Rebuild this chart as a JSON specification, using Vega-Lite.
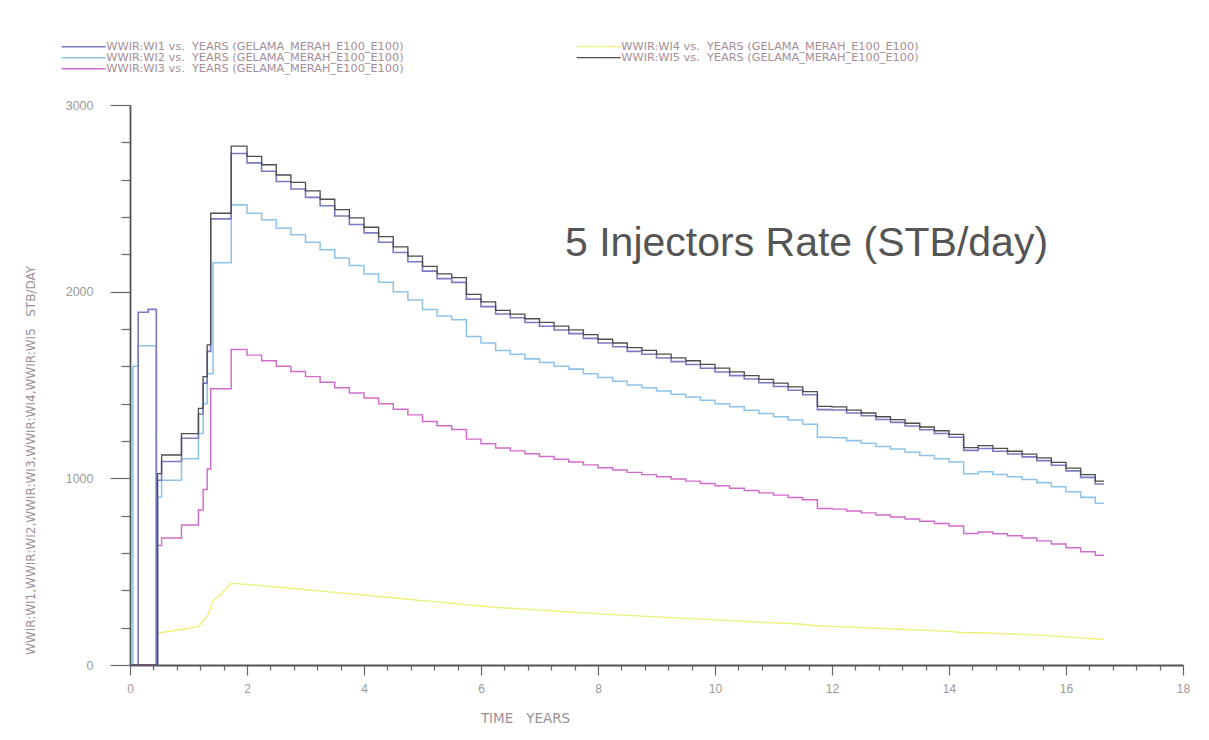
{
  "$schema": "https://vega.github.io/schema/vega-lite/v6.json",
  "width": 1053,
  "height": 560,
  "autosize": {"type": "none"},
  "padding": {"left": 130, "top": 105, "right": 26, "bottom": 75},
  "background": "white",
  "title": {
    "text": "5 Injectors Rate (STB/day)",
    "anchor": "start",
    "frame": "group",
    "orient": "top",
    "dx": 435,
    "dy": 228,
    "font": "Liberation Sans",
    "fontSize": 41,
    "fontWeight": "normal",
    "color": "#555555"
  },
  "data": {
    "values": [
      {"t": 0, "WI1": 0, "WI2": 0, "WI3": 0, "WI5": 0},
      {"t": 0.05, "WI2": 1600},
      {"t": 0.14, "WI1": 1890, "WI2": 1710},
      {"t": 0.31, "WI1": 1905},
      {"t": 0.45, "WI1": 0, "WI2": 0},
      {"t": 0.47, "WI1": 990, "WI2": 900, "WI3": 640, "WI4": 170, "WI5": 1025},
      {"t": 0.54, "WI1": 1090, "WI2": 990, "WI3": 680, "WI5": 1125},
      {"t": 0.88, "WI1": 1215, "WI2": 1105, "WI3": 750, "WI4": 190, "WI5": 1240},
      {"t": 1.17, "WI1": 1345, "WI2": 1240, "WI3": 830, "WI4": 205, "WI5": 1375},
      {"t": 1.25, "WI1": 1510, "WI2": 1400, "WI3": 940, "WI5": 1545},
      {"t": 1.32, "WI1": 1680, "WI2": 1560, "WI3": 1050, "WI4": 260, "WI5": 1715},
      {"t": 1.38, "WI1": 2390, "WI3": 1480, "WI5": 2420},
      {"t": 1.42, "WI2": 2155, "WI4": 345},
      {"t": 1.54, "WI4": 375},
      {"t": 1.73, "WI1": 2740, "WI2": 2465, "WI3": 1690, "WI4": 437, "WI5": 2780},
      {"t": 2.0, "WI1": 2690, "WI2": 2420, "WI3": 1660, "WI4": 432, "WI5": 2725},
      {"t": 2.25, "WI1": 2645, "WI2": 2385, "WI3": 1630, "WI4": 425, "WI5": 2680},
      {"t": 2.5, "WI1": 2590, "WI2": 2340, "WI3": 1600, "WI4": 418, "WI5": 2625},
      {"t": 2.75, "WI1": 2550, "WI2": 2305, "WI3": 1572, "WI4": 411, "WI5": 2585},
      {"t": 3.0, "WI1": 2505, "WI2": 2265, "WI3": 1545, "WI4": 403, "WI5": 2540},
      {"t": 3.25, "WI1": 2460, "WI2": 2225, "WI3": 1515, "WI4": 396, "WI5": 2495},
      {"t": 3.5, "WI1": 2405, "WI2": 2180, "WI3": 1485, "WI4": 389, "WI5": 2440},
      {"t": 3.75, "WI1": 2360, "WI2": 2140, "WI3": 1457, "WI4": 382, "WI5": 2395},
      {"t": 4.0, "WI1": 2315, "WI2": 2095, "WI3": 1430, "WI4": 375, "WI5": 2345},
      {"t": 4.25, "WI1": 2265, "WI2": 2050, "WI3": 1400, "WI4": 367, "WI5": 2295},
      {"t": 4.5, "WI1": 2210, "WI2": 2000, "WI3": 1370, "WI4": 360, "WI5": 2240},
      {"t": 4.75, "WI1": 2160, "WI2": 1955, "WI3": 1340, "WI4": 352, "WI5": 2190},
      {"t": 5.0, "WI1": 2110, "WI2": 1905, "WI3": 1305, "WI4": 345, "WI5": 2135},
      {"t": 5.25, "WI1": 2070, "WI2": 1870, "WI3": 1282, "WI4": 338, "WI5": 2095},
      {"t": 5.5, "WI1": 2050, "WI2": 1850, "WI3": 1262, "WI4": 331, "WI5": 2075},
      {"t": 5.75, "WI1": 1960, "WI2": 1760, "WI3": 1210, "WI4": 322, "WI5": 1985},
      {"t": 6.0, "WI1": 1920, "WI2": 1725, "WI3": 1185, "WI4": 315, "WI5": 1945},
      {"t": 6.25, "WI1": 1880, "WI2": 1685, "WI3": 1162, "WI4": 309, "WI5": 1900},
      {"t": 6.5, "WI1": 1860, "WI2": 1665, "WI3": 1147, "WI4": 304, "WI5": 1880},
      {"t": 6.75, "WI1": 1835, "WI2": 1640, "WI3": 1132, "WI4": 299, "WI5": 1855},
      {"t": 7.0, "WI1": 1815, "WI2": 1620, "WI3": 1117, "WI4": 294, "WI5": 1835},
      {"t": 7.25, "WI1": 1795, "WI2": 1600, "WI3": 1102, "WI4": 289, "WI5": 1815},
      {"t": 7.5, "WI1": 1775, "WI2": 1585, "WI3": 1087, "WI4": 284, "WI5": 1795},
      {"t": 7.75, "WI1": 1750, "WI2": 1560, "WI3": 1072, "WI4": 279, "WI5": 1770},
      {"t": 8.0, "WI1": 1725, "WI2": 1540, "WI3": 1057, "WI4": 274, "WI5": 1745},
      {"t": 8.25, "WI1": 1705, "WI2": 1520, "WI3": 1045, "WI4": 270, "WI5": 1725},
      {"t": 8.5, "WI1": 1680, "WI2": 1500, "WI3": 1032, "WI4": 266, "WI5": 1700},
      {"t": 8.75, "WI1": 1665, "WI2": 1485, "WI3": 1020, "WI4": 262, "WI5": 1685},
      {"t": 9.0, "WI1": 1645, "WI2": 1468, "WI3": 1008, "WI4": 258, "WI5": 1665},
      {"t": 9.25, "WI1": 1625, "WI2": 1450, "WI3": 996, "WI4": 254, "WI5": 1645},
      {"t": 9.5, "WI1": 1610, "WI2": 1436, "WI3": 985, "WI4": 250, "WI5": 1630},
      {"t": 9.75, "WI1": 1590, "WI2": 1418, "WI3": 972, "WI4": 246, "WI5": 1610},
      {"t": 10.0, "WI1": 1570, "WI2": 1400, "WI3": 960, "WI4": 242, "WI5": 1590},
      {"t": 10.25, "WI1": 1550, "WI2": 1383, "WI3": 947, "WI4": 238, "WI5": 1570},
      {"t": 10.5, "WI1": 1532, "WI2": 1365, "WI3": 935, "WI4": 234, "WI5": 1550},
      {"t": 10.75, "WI1": 1512, "WI2": 1347, "WI3": 922, "WI4": 230, "WI5": 1530},
      {"t": 11.0, "WI1": 1492, "WI2": 1330, "WI3": 910, "WI4": 226, "WI5": 1510},
      {"t": 11.25, "WI1": 1472, "WI2": 1312, "WI3": 897, "WI4": 222, "WI5": 1490},
      {"t": 11.5, "WI1": 1448, "WI2": 1290, "WI3": 885, "WI4": 218, "WI5": 1465},
      {"t": 11.75, "WI1": 1368, "WI2": 1220, "WI3": 838, "WI4": 210, "WI5": 1385},
      {"t": 12.0, "WI1": 1366, "WI2": 1218, "WI3": 835, "WI4": 207, "WI5": 1383},
      {"t": 12.25, "WI1": 1350, "WI2": 1202, "WI3": 825, "WI4": 204, "WI5": 1365},
      {"t": 12.5, "WI1": 1335, "WI2": 1188, "WI3": 815, "WI4": 200, "WI5": 1350},
      {"t": 12.75, "WI1": 1315, "WI2": 1171, "WI3": 804, "WI4": 197, "WI5": 1330},
      {"t": 13.0, "WI1": 1300, "WI2": 1157, "WI3": 793, "WI4": 194, "WI5": 1315},
      {"t": 13.25, "WI1": 1280, "WI2": 1140, "WI3": 782, "WI4": 190, "WI5": 1295},
      {"t": 13.5, "WI1": 1260, "WI2": 1122, "WI3": 770, "WI4": 187, "WI5": 1275},
      {"t": 13.75, "WI1": 1240, "WI2": 1105, "WI3": 758, "WI4": 184, "WI5": 1255},
      {"t": 14.0, "WI1": 1220, "WI2": 1087, "WI3": 745, "WI4": 180, "WI5": 1235},
      {"t": 14.25, "WI1": 1150, "WI2": 1025, "WI3": 705, "WI4": 173, "WI5": 1165},
      {"t": 14.5, "WI1": 1160, "WI2": 1035, "WI3": 712, "WI4": 173, "WI5": 1175},
      {"t": 14.75, "WI1": 1145, "WI2": 1021, "WI3": 703, "WI4": 170, "WI5": 1160},
      {"t": 15.0, "WI1": 1130, "WI2": 1008, "WI3": 692, "WI4": 167, "WI5": 1145},
      {"t": 15.25, "WI1": 1115, "WI2": 994, "WI3": 680, "WI4": 164, "WI5": 1130},
      {"t": 15.5, "WI1": 1095, "WI2": 977, "WI3": 665, "WI4": 160, "WI5": 1110},
      {"t": 15.75, "WI1": 1070, "WI2": 955, "WI3": 648, "WI4": 156, "WI5": 1085},
      {"t": 16.0, "WI1": 1040, "WI2": 928, "WI3": 628, "WI4": 151, "WI5": 1055},
      {"t": 16.25, "WI1": 1005, "WI2": 898, "WI3": 607, "WI4": 145, "WI5": 1020},
      {"t": 16.5, "WI1": 970, "WI2": 867, "WI3": 588, "WI4": 139, "WI5": 985},
      {"t": 16.65, "WI1": 970, "WI2": 867, "WI3": 588, "WI4": 138, "WI5": 985}
    ]
  },
  "encoding": {
    "x": {
      "field": "t",
      "type": "quantitative",
      "scale": {"domain": [0, 18], "nice": false, "zero": false},
      "axis": {
        "values": [0,0.4,0.8,1.2,1.6,2,2.4,2.8,3.2,3.6,4,4.4,4.8,5.2,5.6,6,6.4,6.8,7.2,7.6,8,8.4,8.8,9.2,9.6,10,10.4,10.8,11.2,11.6,12,12.4,12.8,13.2,13.6,14,14.4,14.8,15.2,15.6,16,16.4,16.8,17.2,17.6,18],
        "labelExpr": "datum.value % 2 === 0 ? toString(datum.value) : ''",
        "labelOverlap": false,
        "labelFlush": false,
        "tickSize": {"condition": {"test": "datum.value % 2 === 0", "value": 10}, "value": 5},
        "labelPadding": 8,
        "labelFontSize": 12,
        "title": "TIME\u00a0\u00a0\u00a0YEARS",
        "titleFontSize": 13.5,
        "titleX": 395,
        "titleY": 53,
        "titleAlign": "center",
        "titleBaseline": "middle",
        "titleAnchor": null
      }
    },
    "y": {
      "field": "v",
      "type": "quantitative",
      "scale": {"domain": [0, 3000], "nice": false},
      "axis": {
        "values": [0,200,400,600,800,1000,1200,1400,1600,1800,2000,2200,2400,2600,2800,3000],
        "labelExpr": "datum.value % 1000 === 0 ? toString(datum.value) : ''",
        "labelOverlap": false,
        "tickSize": {"condition": {"test": "datum.value % 1000 === 0", "value": 20}, "value": 9},
        "labelPadding": 17,
        "labelFontSize": 12.5,
        "title": "WWIR:WI1,WWIR:WI2,WWIR:WI3,WWIR:WI4,WWIR:WI5\u00a0\u00a0\u00a0STB/DAY",
        "titleFontSize": 12,
        "titleX": -100,
        "titleY": 355,
        "titleAngle": 270,
        "titleAlign": "center",
        "titleBaseline": "middle",
        "titleAnchor": null
      }
    },
    "color": {
      "field": "s",
      "type": "nominal",
      "scale": {
        "domain": ["WI1", "WI2", "WI3", "WI4", "WI5"],
        "range": ["#7b7bc4", "#8ec3ea", "#d26ccc", "#eef07a", "#4d4d4d"]
      },
      "legend": {
        "orient": "none",
        "legendX": -52,
        "legendY": -64,
        "columns": 2,
        "title": null,
        "padding": 0,
        "symbolType": "M-7.33,0H7.33",
        "symbolSize": 36,
        "symbolStrokeWidth": 1.5,
        "labelFont": "DejaVu Sans",
        "labelFontSize": 11.3,
        "labelColor": "#a48e98",
        "labelLimit": 400,
        "labelOffset": 17,
        "columnPadding": 169,
        "rowPadding": -4,
        "labelExpr": "'WWIR:' + datum.label + ' vs.\u00a0\u00a0YEARS (GELAMA_MERAH_E100_E100)'"
      }
    },
    "strokeWidth": {
      "field": "s",
      "type": "nominal",
      "scale": {
        "domain": ["WI1", "WI2", "WI3", "WI4", "WI5"],
        "range": [1.6, 1.3, 1.8, 2, 2.6]
      },
      "legend": null
    }
  },
  "layer": [
    {
      "transform": [
        {"fold": ["WI4"], "as": ["s", "v"]},
        {"filter": "isValid(datum.v)"}
      ],
      "mark": {"type": "line", "interpolate": "linear"}
    },
    {
      "transform": [
        {"fold": ["WI3", "WI2", "WI1", "WI5"], "as": ["s", "v"]},
        {"filter": "isValid(datum.v)"}
      ],
      "mark": {"type": "line", "interpolate": "step-after"}
    }
  ],
  "config": {
    "view": {"stroke": null},
    "axis": {
      "grid": false,
      "labelFont": "Liberation Sans",
      "labelFontSize": 11,
      "labelColor": "#9a9a9a",
      "titleFont": "DejaVu Sans",
      "titleFontSize": 8.5,
      "titleFontWeight": "normal",
      "titleColor": "#9a8f96",
      "tickColor": "#666666",
      "tickWidth": 1.2,
      "domainColor": "#555555",
      "domainWidth": 1.8
    }
  }
}
